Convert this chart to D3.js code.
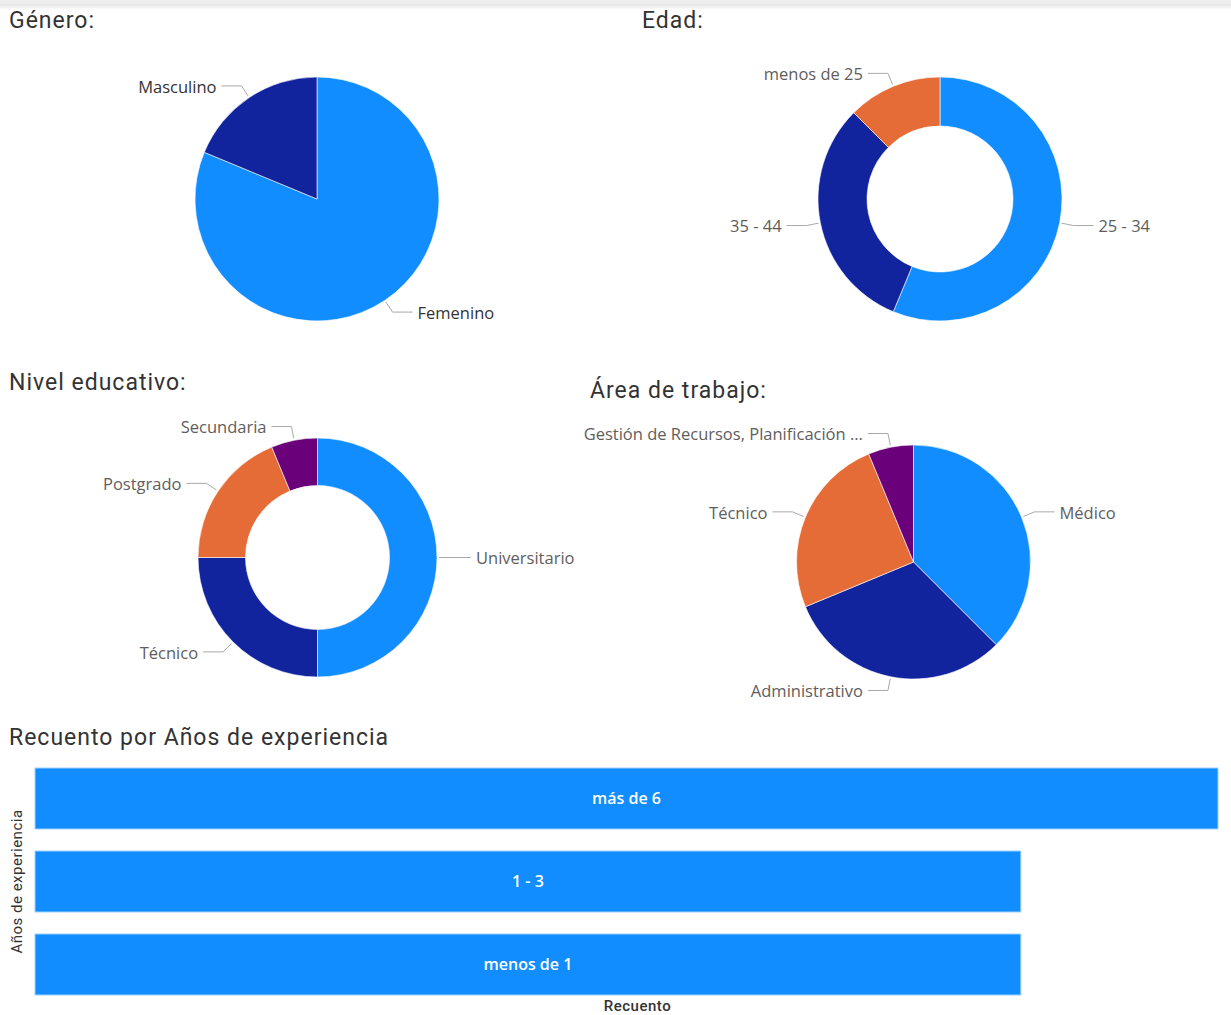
<!DOCTYPE html>
<html>
<head>
<meta charset="utf-8">
<script src="https://cdn.jsdelivr.net/npm/d3@7"></script>
<style>
  body { margin: 0; background: #fff; }
  svg { display: block; }
</style>
</head>
<body>
<svg id="chart" width="1231" height="1015"></svg>
<script>
// Survey breakdowns (counts per category)
const generoCats = ["Femenino", "Masculino"];
const generoVals = [13, 3];

const edadCats = ["25 - 34", "35 - 44", "menos de 25"];
const edadVals = [9, 5, 2];

const nivelCats = ["Universitario", "Técnico", "Postgrado", "Secundaria"];
const nivelVals = [8, 4, 3, 1];

const areaCats = ["Médico", "Administrativo", "Técnico", "Gestión de Recursos, Planificación ..."];
const areaVals = [6, 5, 4, 1];

const expCats = ["más de 6", "1 - 3", "menos de 1"];
const expVals = [6, 5, 5];
const expTicks = [0, 6];

const palette = ["#118DFF", "#12239E", "#E66C37", "#6B007B"];

const svg = d3.select("#chart");
const titleFont = "Roboto, 'DejaVu Sans', sans-serif";
const labelFont = "'Open Sans', 'Noto Sans', sans-serif";

// Header strip with soft shadow
const defs = svg.append("defs");
const grad = defs.append("linearGradient").attr("id", "shade").attr("x1", 0).attr("x2", 0).attr("y1", 0).attr("y2", 1);
grad.append("stop").attr("offset", 0).attr("stop-color", "#e4e4e4");
grad.append("stop").attr("offset", 1).attr("stop-color", "#ffffff");
svg.append("rect").attr("x", 0).attr("y", 0).attr("width", 1231).attr("height", 4).attr("fill", "#eeeeee");
svg.append("rect").attr("x", 0).attr("y", 4).attr("width", 1231).attr("height", 6).attr("fill", "url(#shade)");

function title(text, x, y) {
  svg.append("text")
    .attr("x", x).attr("y", y)
    .attr("font-family", titleFont)
    .attr("font-size", 23)
    .attr("letter-spacing", 1)
    .attr("fill", "#333333")
    .text(text);
}

function pieChart(cats, vals, cx, cy, r, innerR, labelColor) {
  const data = cats.map((c, i) => ({ cat: c, value: vals[i], color: palette[i] }));
  const pie = d3.pie().sort(null).value(d => d.value).startAngle(0).endAngle(2 * Math.PI);
  const arcs = pie(data);
  const arc = d3.arc().innerRadius(innerR).outerRadius(r);
  const g = svg.append("g").attr("transform", `translate(${cx},${cy})`);

  g.selectAll("path.slice").data(arcs).join("path")
    .attr("class", "slice")
    .attr("d", arc)
    .attr("fill", d => d.data.color)
    .attr("stroke", "#ffffff")
    .attr("stroke-width", 0.6);

  arcs.forEach(a => {
    const mid = (a.startAngle + a.endAngle) / 2;
    const sx = Math.sin(mid), sy = -Math.cos(mid);
    const right = sx >= 0;
    const p0 = [sx * (r + 2), sy * (r + 2)];
    const p1 = [sx * (r + 14), sy * (r + 14)];
    const p2 = [p1[0] + (right ? 20 : -20), p1[1]];
    g.append("polyline")
      .attr("points", [p0, p1, p2].map(p => p.join(",")).join(" "))
      .attr("fill", "none")
      .attr("stroke", "#a8a8a8")
      .attr("stroke-width", 1);
    g.append("text")
      .attr("x", p1[0] + (right ? 25 : -25))
      .attr("y", p1[1] + 1)
      .attr("dy", "0.35em")
      .attr("text-anchor", right ? "start" : "end")
      .attr("font-family", labelFont)
      .attr("font-size", 16.5)
      .attr("fill", labelColor)
      .text(a.data.cat);
  });
}

title("Género:", 9, 28);
pieChart(generoCats, generoVals, 317, 199, 122, 0, "#333333");

title("Edad:", 642, 28);
pieChart(edadCats, edadVals, 940, 199, 122, 73, "#605E5C");

title("Nivel educativo:", 9, 390);
pieChart(nivelCats, nivelVals, 317.5, 557.5, 119.5, 72, "#605E5C");

title("Área de trabajo:", 590, 398);
pieChart(areaCats, areaVals, 913.5, 562, 117, 0, "#605E5C");

// Horizontal bar chart: count by years of experience
title("Recuento por Años de experiencia", 9, 745);

const x = d3.scaleLinear().domain(d3.extent(expTicks)).range([35, 1218]);
const y = d3.scaleBand().domain(expCats).range([768, 995]).paddingInner(0.265).paddingOuter(0);

const bars = svg.append("g");
bars.selectAll("rect").data(expCats).join("rect")
  .attr("x", x(0))
  .attr("y", d => y(d))
  .attr("width", (d, i) => x(expVals[i]) - x(0))
  .attr("height", y.bandwidth())
  .attr("fill", "#118DFF")
  .attr("stroke", "#9fd0ff")
  .attr("stroke-width", 1);

bars.selectAll("text").data(expCats).join("text")
  .attr("x", (d, i) => (x(0) + x(expVals[i])) / 2)
  .attr("y", d => y(d) + y.bandwidth() / 2)
  .attr("dy", "0.35em")
  .attr("text-anchor", "middle")
  .attr("font-family", labelFont)
  .attr("font-size", 16)
  .attr("font-weight", 600)
  .attr("fill", "#ffffff")
  .text(d => d);

svg.append("text")
  .attr("transform", `translate(22, ${(768 + 995) / 2}) rotate(-90)`)
  .attr("text-anchor", "middle")
  .attr("font-family", titleFont)
  .attr("font-size", 15)
  .attr("letter-spacing", 0.5)
  .attr("fill", "#333333")
  .text("Años de experiencia");

svg.append("text")
  .attr("x", (x.range()[0] + x.range()[1]) / 2 + 11)
  .attr("y", 1011)
  .attr("text-anchor", "middle")
  .attr("font-family", titleFont)
  .attr("font-size", 15)
  .attr("letter-spacing", 0.5)
  .attr("font-weight", 500)
  .attr("fill", "#333333")
  .text("Recuento");
</script>
</body>
</html>
